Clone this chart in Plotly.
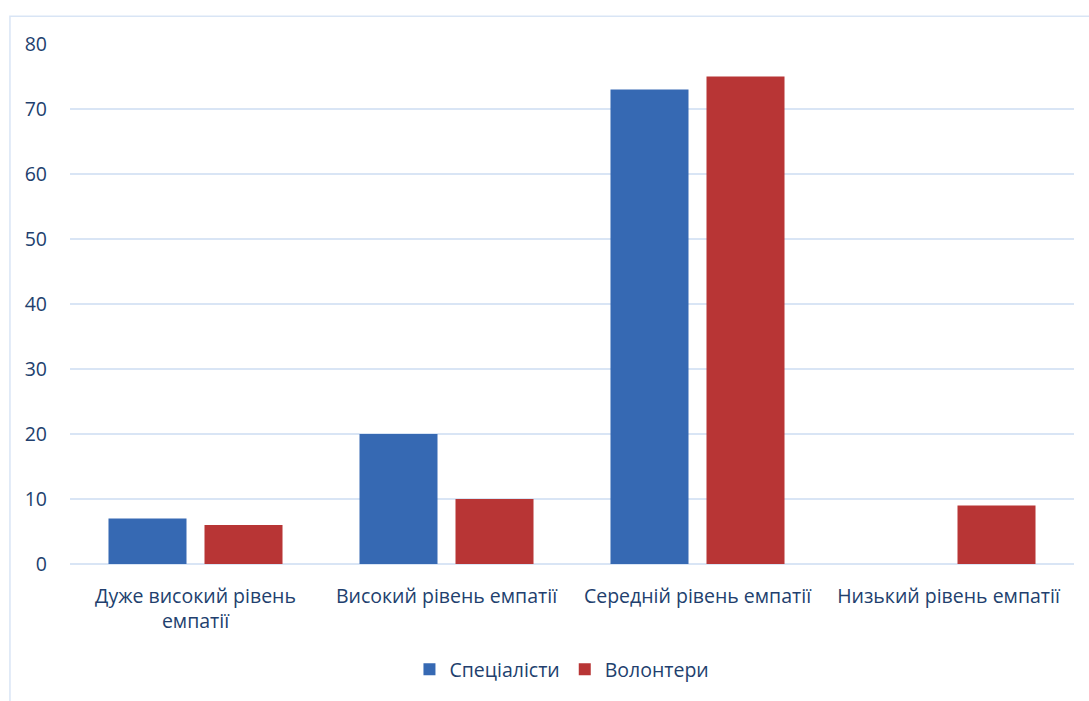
import plotly.graph_objects as go

categories = ["Дуже високий рівень<br>емпатії", "Високий рівень емпатії",
              "Середній рівень емпатії", "Низький рівень емпатії"]
series_names = ["Спеціалісти", "Волонтери"]
specialists = [7, 20, 73, 0]
volunteers = [6, 10, 75, 9]
y_ticks = [0, 10, 20, 30, 40, 50, 60, 70, 80]

text_color = "#223F6E"
grid_color = "#D9E5F5"
font_family = "Open Sans, Noto Sans, sans-serif"
fs = 19.5

fig = go.Figure()
fig.add_trace(go.Bar(x=categories, y=specialists, name=series_names[0],
                     marker=dict(color="#3669B3", line=dict(width=0))))
fig.add_trace(go.Bar(x=categories, y=volunteers, name=series_names[1],
                     marker=dict(color="#B83535", line=dict(width=0))))

fig.update_layout(
    width=1089, height=701,
    margin=dict(l=70, r=15, t=44, b=135),
    paper_bgcolor="white", plot_bgcolor="white",
    barmode="group", bargap=0.235, bargroupgap=0.1875,
    font=dict(family=font_family, size=fs, color=text_color),
    showlegend=True,
    legend=dict(orientation="h", x=0.49, xanchor="center", y=-0.203, yanchor="middle",
                font=dict(size=fs, color=text_color), itemwidth=30,
                traceorder="normal"),
    xaxis=dict(showgrid=False, showline=False, ticks="", tickfont=dict(size=fs, color=text_color),
               ticklabelstandoff=18, automargin=False),
    yaxis=dict(range=[0, 80], tickvals=y_ticks, showgrid=True, gridcolor=grid_color, gridwidth=1.5,
               zeroline=True, zerolinecolor=grid_color, zerolinewidth=1.5,
               showline=False, ticks="", tickfont=dict(size=fs, color=text_color),
               ticklabelstandoff=22, automargin=False),
    shapes=[dict(type="rect", xref="paper", yref="paper",
                 x0=-0.0598, x1=1.2, y0=-0.5, y1=1.0536,
                 line=dict(color=grid_color, width=1.5), fillcolor="rgba(0,0,0,0)", layer="below")],
)

fig.write_html("out.html")
